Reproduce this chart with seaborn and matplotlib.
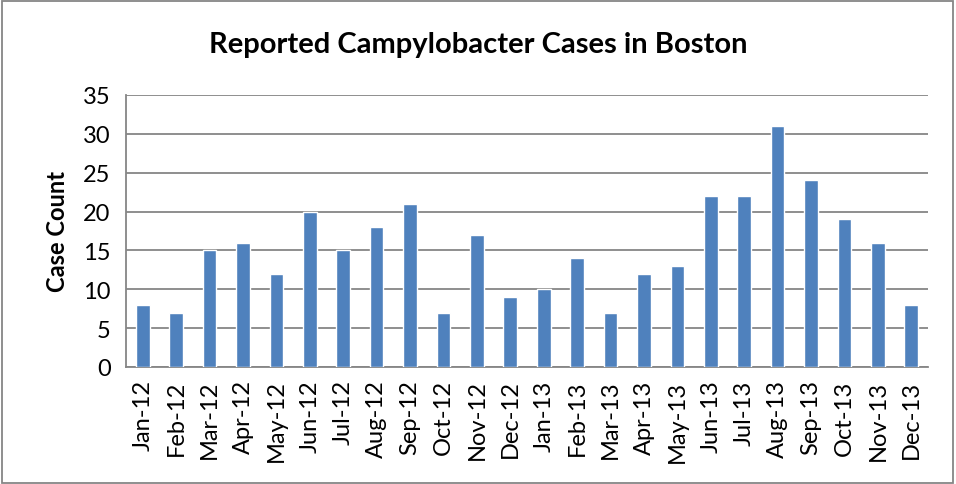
import matplotlib
matplotlib.use("Agg")
import matplotlib.pyplot as plt
import seaborn as sns
import pandas as pd
import numpy as np
from matplotlib.patches import Rectangle

months = ["Jan-12", "Feb-12", "Mar-12", "Apr-12", "May-12", "Jun-12", "Jul-12", "Aug-12",
          "Sep-12", "Oct-12", "Nov-12", "Dec-12", "Jan-13", "Feb-13", "Mar-13", "Apr-13",
          "May-13", "Jun-13", "Jul-13", "Aug-13", "Sep-13", "Oct-13", "Nov-13", "Dec-13"]
cases = [8, 7, 15, 16, 12, 20, 15, 18, 21, 7, 17, 9, 10, 14, 7, 12, 13, 22, 22, 31, 24, 19, 16, 8]
yticks = [0, 5, 10, 15, 20, 25, 30, 35]

sns.set_style("white")
plt.rcParams['font.family'] = ['Lato', 'DejaVu Sans']
plt.rcParams['text.color'] = 'black'
plt.rcParams['xtick.color'] = 'black'
plt.rcParams['ytick.color'] = 'black'
plt.rcParams['axes.labelcolor'] = 'black'

df = pd.DataFrame({"Month": months, "Cases": cases})

fig = plt.figure(figsize=(9.56, 4.85), dpi=100)
ax = fig.add_axes([126/956, 1-368/485, (928-126)/956, (368-96)/485])

sns.barplot(data=df, x="Month", y="Cases", color="#4F81BD", saturation=1, width=0.41, ax=ax, zorder=3)

ax.set_ylim(0, 35)
ax.set_xlim(-0.5, len(months) - 0.5)
ax.set_yticks(yticks)
ax.set_yticklabels([str(v) for v in yticks], fontsize=17)
ax.yaxis.grid(True, color="#868686", linewidth=1.3, zorder=0)
ax.set_axisbelow(True)

ax.set_xticks(range(len(months)))
ax.set_xticklabels(months, rotation=90, fontsize=17)
ax.tick_params(axis='x', which='major', length=0, pad=9, labelcolor='black')
ax.set_xticks(np.arange(-0.5, len(months), 1.0), minor=True)
ax.tick_params(axis='x', which='minor', length=6, color="#868686", width=1.3, direction='out')
ax.tick_params(axis='y', length=6, color="#868686", width=1.3, direction='out', pad=5, labelcolor='black')

for s in ["top", "right"]:
    ax.spines[s].set_visible(False)
for s in ["left", "bottom"]:
    ax.spines[s].set_color("#868686")
    ax.spines[s].set_linewidth(1.3)

ax.set_xlabel("")
ax.set_ylabel("Case Count", fontsize=17, fontweight="bold", labelpad=10)

fig.text(478/956, 1-45/485, "Reported Campylobacter Cases in Boston", ha="center", va="center",
         fontsize=21, fontweight="bold")

fig.patches.append(Rectangle((0.002, 0.003), 0.995, 0.993, transform=fig.transFigure,
                             fill=False, edgecolor="#868686", linewidth=1.3))

fig.savefig("out.png", dpi=100)
